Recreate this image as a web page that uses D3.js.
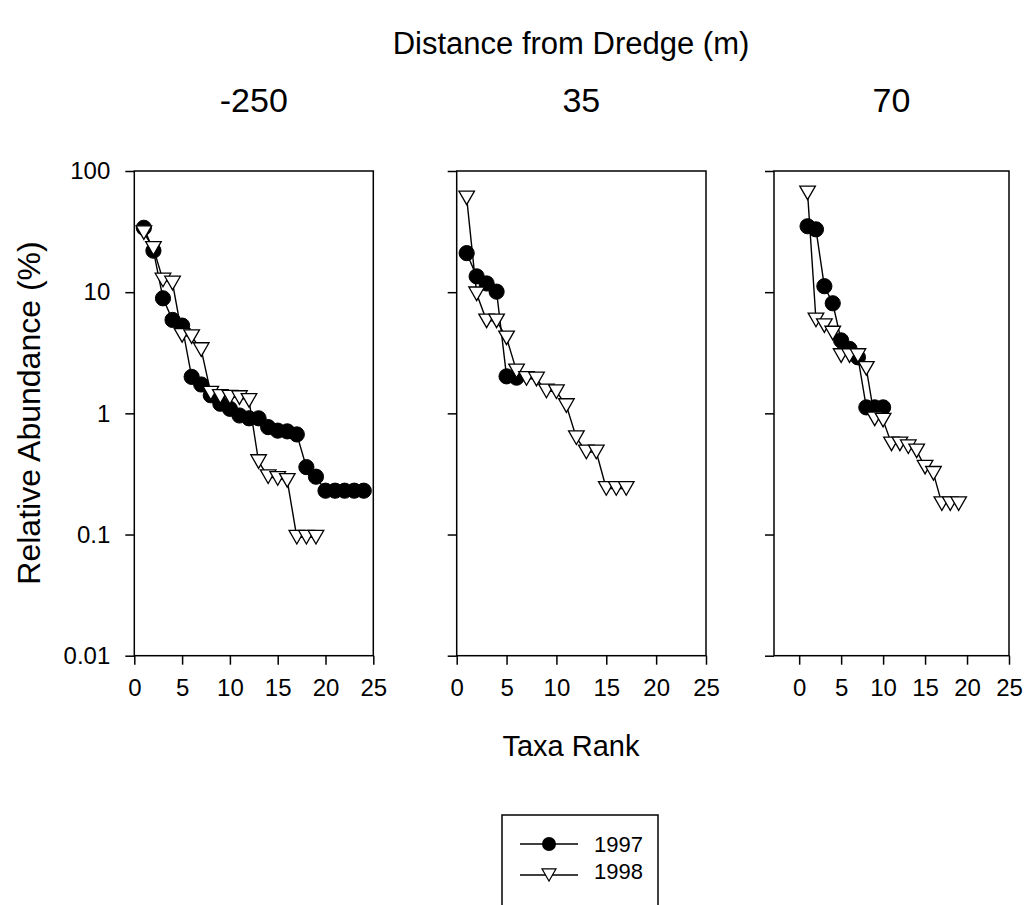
<!DOCTYPE html>
<html>
<head>
<meta charset="utf-8">
<script src="https://cdn.jsdelivr.net/npm/d3@7"></script>
<style>
body { margin: 0; background: #fff; }
text { font-family: "Liberation Sans", Arial, sans-serif; fill: #000; }
</style>
</head>
<body>
<svg id="chart" width="1027" height="905"></svg>
<script>
// panel titles (distance from dredge, m)
var panelNames = ["-250", "35", "70"];
var years = ["1997", "1998"];

// relative abundance (%) by taxa rank 1..n
var d250_1997 = [34, 22, 8.9, 5.9, 5.3, 2.0, 1.73, 1.41, 1.2, 1.09, 0.96, 0.91, 0.91, 0.77, 0.72, 0.71, 0.67, 0.36, 0.30, 0.23, 0.23, 0.23, 0.23, 0.23];
var d250_1998 = [31, 23, 12.6, 11.9, 4.4, 4.3, 3.36, 1.47, 1.38, 1.36, 1.35, 1.28, 0.40, 0.30, 0.29, 0.28, 0.095, 0.095, 0.095];
var d35_1997 = [21, 13.5, 11.8, 10.1, 2.02, 1.97];
var d35_1998 = [60, 9.7, 5.8, 5.8, 4.2, 2.24, 1.94, 1.92, 1.53, 1.51, 1.16, 0.63, 0.48, 0.48, 0.24, 0.24, 0.24];
var d70_1997 = [35, 33, 11.2, 8.1, 4.0, 3.4, 2.9, 1.12, 1.12, 1.12];
var d70_1998 = [66, 5.9, 5.3, 4.6, 3.0, 3.0, 3.0, 2.35, 0.9, 0.88, 0.56, 0.56, 0.53, 0.49, 0.36, 0.32, 0.18, 0.18, 0.18];

var xTicks = [0, 5, 10, 15, 20, 25];
var yTicks = [0.01, 0.1, 1, 10, 100];
var yTickLabels = ["0.01", "0.1", "1", "10", "100"];

var series = [
    [d250_1997, d250_1998],
    [d35_1997, d35_1998],
    [d70_1997, d70_1998]
];

var svg = d3.select("#chart");

// panel geometry
var lefts = [134.3, 456.7, 774];
var rights = [373.3, 706, 1009];
var xDomains = [[0, 25], [0, 25], [-3, 25]];
var plotTop = 171, plotBottom = 655.7;

var yscale = d3.scaleLog().domain([0.01, 100]).range([plotBottom, plotTop]);

var tri = "M-7.8,-6.8L7.8,-6.8L0,6.8Z";

function rankOf(d, i) { return i + 1; }

panelNames.forEach(function(name, p) {
    var xscale = d3.scaleLinear().domain(xDomains[p]).range([lefts[p], rights[p]]);
    var g = svg.append("g").attr("class", "panel");

    // frame
    g.append("rect")
        .attr("x", lefts[p]).attr("y", plotTop)
        .attr("width", rights[p] - lefts[p]).attr("height", plotBottom - plotTop)
        .style("fill", "none").style("stroke", "#000").style("stroke-width", 1.5);

    var yaxis = d3.axisLeft(yscale)
        .tickValues(yTicks)
        .tickSize(9).tickSizeOuter(0).tickPadding(15)
        .tickFormat(function(d, i) { return p === 0 ? yTickLabels[i] : ""; });
    var ya = g.append("g").attr("transform", "translate(" + lefts[p] + ",0)").call(yaxis);

    var xaxis = d3.axisBottom(xscale)
        .tickValues(xTicks)
        .tickSize(9).tickSizeOuter(0).tickPadding(14);
    var xa = g.append("g").attr("transform", "translate(0," + plotBottom + ")").call(xaxis);

    [ya, xa].forEach(function(a) {
        a.select(".domain").remove();
        a.selectAll("line").style("stroke", "#000").style("stroke-width", 1.5);
        a.selectAll("text").style("font-size", "24px")
            .style("font-family", "'Liberation Sans', Arial, sans-serif").attr("fill", "#000");
    });

    var line = d3.line()
        .x(function(d, i) { return xscale(rankOf(d, i)); })
        .y(function(d) { return yscale(d); });

    series[p].forEach(function(vals, s) {
        g.append("path")
            .datum(vals)
            .attr("d", line)
            .style("fill", "none").style("stroke", "#000").style("stroke-width", 1.4);

        var pts = g.selectAll("g.pt" + s)
            .data(vals)
            .enter().append("g")
            .attr("class", "pt" + s)
            .attr("transform", function(d, i) {
                return "translate(" + xscale(rankOf(d, i)) + "," + yscale(d) + ")";
            });
        if (s === 0) {
            pts.append("circle").attr("r", 7.6)
                .style("fill", "#000").style("stroke", "#000").style("stroke-width", 1);
        } else {
            pts.append("path").attr("d", tri)
                .style("fill", "#fff").style("stroke", "#000").style("stroke-width", 1.3);
        }
    });

    g.append("text")
        .attr("x", (lefts[p] + rights[p]) / 2).attr("y", 112)
        .attr("text-anchor", "middle").style("font-size", "34px")
        .text(name);
});

svg.append("text")
    .attr("x", 571).attr("y", 54)
    .attr("text-anchor", "middle").style("font-size", "31px")
    .text("Distance from Dredge (m)");

svg.append("text")
    .attr("x", 571).attr("y", 756)
    .attr("text-anchor", "middle").style("font-size", "29px")
    .text("Taxa Rank");

svg.append("text")
    .attr("transform", "translate(40,413) rotate(-90)")
    .attr("text-anchor", "middle").style("font-size", "32px")
    .text("Relative Abundance (%)");

// legend
var lg = svg.append("g").attr("class", "legend");
lg.append("rect")
    .attr("x", 502).attr("y", 815).attr("width", 156).attr("height", 100)
    .style("fill", "#fff").style("stroke", "#000").style("stroke-width", 1.5);
var legY = [844, 875];
years.forEach(function(yr, s) {
    var row = lg.append("g").attr("transform", "translate(0," + legY[s] + ")");
    row.append("line").attr("x1", 520).attr("x2", 578).attr("y1", 0).attr("y2", 0)
        .style("stroke", "#000").style("stroke-width", 1.4);
    if (s === 0) {
        row.append("circle").attr("cx", 549).attr("cy", 0).attr("r", 7)
            .style("fill", "#000");
    } else {
        row.append("path").attr("d", tri).attr("transform", "translate(549,0) scale(0.9)")
            .style("fill", "#fff").style("stroke", "#000").style("stroke-width", 1.3);
    }
    row.append("text").attr("x", 594).attr("y", s === 0 ? 8 : 4)
        .style("font-size", "22px").text(yr);
});
</script>
</body>
</html>
